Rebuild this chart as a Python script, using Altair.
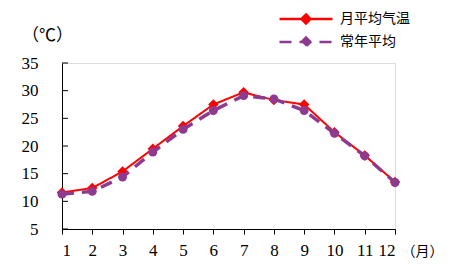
import altair as alt
import pandas as pd

months = list(range(1, 13))
monthly = [11.6, 12.4, 15.4, 19.5, 23.6, 27.5, 29.7, 28.3, 27.5, 22.5, 18.3, 13.5]
normal = [11.3, 11.8, 14.4, 18.9, 23.0, 26.4, 29.1, 28.5, 26.4, 22.3, 18.2, 13.4]
series_names = ["月平均气温", "常年平均"]
y_ticks = [5, 10, 15, 20, 25, 30, 35]

df = pd.DataFrame({
    "month": months * 2,
    "temp": monthly + normal,
    "series": [series_names[0]] * 12 + [series_names[1]] * 12,
})
ticks_df = pd.DataFrame({"v": y_ticks})

W, H = 333, 166
RED, PURPLE = "#FF0000", "#8E3A8E"
LABEL_FONT = "Liberation Serif"
color_scale = alt.Scale(domain=series_names, range=[RED, PURPLE])
dash_scale = alt.Scale(domain=series_names, range=[[1, 0], [12, 8]])
x_scale = alt.Scale(domain=[1, 12], nice=False, zero=False)
y_scale = alt.Scale(domain=[5, 35], nice=False, zero=False)

legend = alt.Legend(
    title=None, orient="none", legendX=216, legendY=-52,
    symbolType="M-1,0H1M0,-0.17L0.17,0L0,0.17L-0.17,0Z",
    symbolSize=2809, clipHeight=16, rowPadding=7, labelOffset=6,
    labelFont="Noto Sans CJK SC", labelFontSize=14, labelColor="black",
    symbolStrokeWidth=2.5, padding=0,
)

x_axis = alt.Axis(
    values=months, format="d", tickSize=5, labelPadding=8, grid=False,
    labelFont=LABEL_FONT, labelFontSize=17, labelColor="black",
    domainColor="black", tickColor="black",
    title="（月）", titleX=360, titleY=22, titleAlign="center",
    titleBaseline="middle", titleFont="Noto Sans CJK SC", titleFontSize=14,
    titleFontWeight="normal", titleColor="black",
)
y_axis = alt.Axis(
    values=y_ticks, ticks=False, labelPadding=24, grid=False,
    labelFont=LABEL_FONT, labelFontSize=17, labelColor="black",
    domainColor="black",
    title="（℃）", titleAngle=0, titleX=-15, titleY=-28, titleAlign="center",
    titleBaseline="middle", titleFont="Noto Sans CJK SC", titleFontSize=17,
    titleFontWeight="normal", titleColor="black",
)
x_enc = alt.X("month:Q", scale=x_scale, axis=x_axis)
y_enc = alt.Y("temp:Q", scale=y_scale, axis=y_axis)
color_enc = alt.Color("series:N", scale=color_scale, legend=legend)
dash_enc = alt.StrokeDash("series:N", scale=dash_scale, legend=legend)

base = alt.Chart(df)

def series_layers(name, width, shape, size):
    f = alt.datum.series == name
    line = base.transform_filter(f).mark_line(strokeWidth=width).encode(
        x=x_enc, y=y_enc, color=color_enc, strokeDash=dash_enc)
    pts = base.transform_filter(f).mark_point(shape=shape, filled=True, size=size, opacity=1).encode(
        x=x_enc, y=y_enc, color=color_enc)
    return [line, pts]

tick_rules = alt.Chart(ticks_df).mark_rule(color="black", strokeWidth=1).encode(
    y=alt.Y("v:Q", scale=y_scale, axis=y_axis),
    x=alt.value(0), x2=alt.value(6),
)

layers = series_layers(series_names[0], 2, "diamond", 110) + series_layers(series_names[1], 3.5, "circle", 80)

chart = alt.layer(*layers, tick_rules).properties(
    width=W, height=H,
    autosize=alt.AutoSizeParams(type="none"),
    padding={"left": 62, "top": 63, "right": 56, "bottom": 45},
).configure_view(stroke=None).configure(background="white")

chart.save("out.html", embed_options={"renderer": "svg", "actions": False})
